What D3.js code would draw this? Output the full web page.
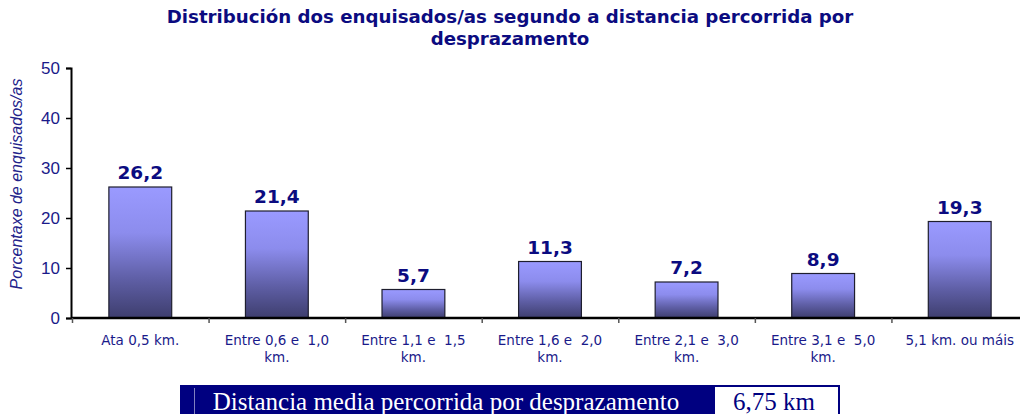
<!DOCTYPE html>
<html><head><meta charset="utf-8">
<script src="https://cdn.jsdelivr.net/npm/d3@7/dist/d3.min.js"></script>
<style>body{margin:0;background:#fff}svg{display:block}</style>
</head><body>
<svg id="c" width="1020" height="414"></svg>
<script>
const categories = [["Ata 0,5 km."],["Entre 0,6 e  1,0","km."],["Entre 1,1 e  1,5","km."],["Entre 1,6 e  2,0","km."],["Entre 2,1 e  3,0","km."],["Entre 3,1 e  5,0","km."],["5,1 km. ou máis"]];
const values = [26.2, 21.4, 5.7, 11.3, 7.2, 8.9, 19.3];
const valueLabels = ["26,2","21,4","5,7","11,3","7,2","8,9","19,3"];
const yTicks = [0,10,20,30,40,50];
const titleLines = ["Distribución dos enquisados/as segundo a distancia percorrida por","desprazamento"];
const yLabel = "Porcentaxe de enquisados/as";
const footerLabel = "Distancia media percorrida por desprazamento";
const footerValue = "6,75 km";

const svg = d3.select("#c");
const x = d3.scaleBand().domain(d3.range(categories.length)).range([72, 1028]).paddingInner(0.54).paddingOuter(0.27);
const y = d3.scaleLinear().domain([0,50]).range([318, 68]);

const defs = svg.append("defs");
const g = defs.append("linearGradient").attr("id","bg").attr("x1",0).attr("y1",0).attr("x2",0).attr("y2",1);
g.append("stop").attr("offset","0%").attr("stop-color","#9a9aff");
g.append("stop").attr("offset","35%").attr("stop-color","#8c8ced");
g.append("stop").attr("offset","70%").attr("stop-color","#5f5fa6");
g.append("stop").attr("offset","100%").attr("stop-color","#3e3e6e");

// title
svg.append("text").attr("x",510).attr("y",0).attr("text-anchor","middle")
  .attr("font-family","'DejaVu Sans', sans-serif").attr("font-weight","bold")
  .attr("font-size",18.2).attr("fill","#0b0b80")
  .selectAll("tspan").data(titleLines).join("tspan").attr("x",510).attr("y",(d,i)=>23+i*22).text(d=>d);

// bars
svg.append("g").selectAll("rect").data(values).join("rect")
  .attr("x",(d,i)=>x(i)).attr("width",x.bandwidth())
  .attr("y",d=>y(d)).attr("height",d=>y(0)-y(d))
  .attr("fill","url(#bg)").attr("stroke","#1e1e2e").attr("stroke-width",1.2);

// value labels
svg.append("g").selectAll("text").data(values).join("text")
  .attr("x",(d,i)=>x(i)+x.bandwidth()/2).attr("y",d=>y(d)-8)
  .attr("text-anchor","middle").attr("font-family","'DejaVu Sans', sans-serif").attr("font-weight","bold")
  .attr("font-size",18.5).attr("fill","#0b0b80").text((d,i)=>valueLabels[i]);

// y axis
const ya = svg.append("g").attr("transform","translate(71,0)")
  .call(d3.axisLeft(y).tickValues(yTicks).tickSize(5).tickPadding(6));
ya.select(".domain").attr("stroke","#000").attr("stroke-width",2);
ya.selectAll(".tick line").attr("stroke","#000").attr("stroke-width",1.5);
ya.selectAll("text").attr("font-family","'Liberation Sans', Arial, sans-serif").attr("font-size",17).attr("fill","#1a1a8a");

// x axis
const xs = d3.scaleLinear().domain([0,categories.length]).range([72,1028]);
const xa = svg.append("g").attr("transform","translate(0,318)")
  .call(d3.axisBottom(xs).tickValues(d3.range(categories.length+1)).tickSize(5).tickFormat(""));
xa.select(".domain").attr("stroke","#000").attr("stroke-width",2.5).attr("d","M71,0H1028");
xa.selectAll(".tick line").attr("stroke","#555").attr("stroke-width",1.5);

svg.append("g").selectAll("text").data(categories).join("text")
  .attr("text-anchor","middle").attr("font-family","'DejaVu Sans', Verdana, sans-serif").attr("font-size",13.5).attr("fill","#1a1a8a")
  .style("white-space","pre")
  .each(function(d,i){
    d3.select(this).selectAll("tspan").data(d).join("tspan")
      .attr("x",x(i)+x.bandwidth()/2).attr("y",(t,j)=>345+j*17).text(t=>t);
  });

// y label
svg.append("text").attr("transform","translate(22,184) rotate(-90)").attr("text-anchor","middle")
  .attr("font-family","'Liberation Sans', Arial, sans-serif").attr("font-style","italic").attr("font-size",16)
  .attr("fill","#22228a").text(yLabel);

// footer
svg.append("rect").attr("x",180).attr("y",385).attr("width",660).attr("height",35).attr("fill","#000080");
svg.append("line").attr("x1",194.5).attr("x2",194.5).attr("y1",388).attr("y2",414).attr("stroke","#8080c0").attr("stroke-width",1);
svg.append("rect").attr("x",715).attr("y",387).attr("width",123).attr("height",30).attr("fill","#fff");
svg.append("text").attr("x",446).attr("y",410).attr("text-anchor","middle")
  .attr("font-family","'Liberation Serif', 'Times New Roman', serif").attr("font-size",25).attr("fill","#fff").text(footerLabel);
svg.append("text").attr("x",774).attr("y",410).attr("text-anchor","middle")
  .attr("font-family","'Liberation Serif', 'Times New Roman', serif").attr("font-size",25).attr("fill","#000080").text(footerValue);
</script>
</body></html>
